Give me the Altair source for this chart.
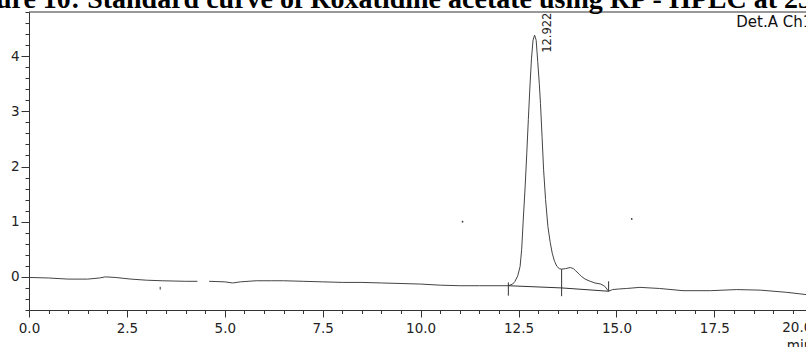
import altair as alt
import pandas as pd

# ---- data ----
time_min = [0.0, 0.5, 1.0, 1.5, 1.8, 1.95, 2.2, 2.6, 3.0, 3.4, 4.0, 4.3,
            4.6, 5.0, 5.2, 5.4, 5.8, 6.2, 6.5, 7.0, 7.5, 8.0, 8.5, 9.0, 9.5,
            10.0, 10.5, 11.0, 11.5, 12.0, 12.24, 12.35, 12.41, 12.48, 12.54,
            12.58, 12.62, 12.67, 12.71, 12.75, 12.79, 12.83, 12.87, 12.91,
            12.95, 12.99, 13.03, 13.06, 13.10, 13.14, 13.19, 13.25, 13.31,
            13.36, 13.42, 13.48, 13.54, 13.6, 13.7, 13.82, 13.9, 13.96, 14.05,
            14.12, 14.2, 14.33, 14.45, 14.6, 14.7, 14.8, 14.9, 15.05, 15.26,
            15.6, 16.1, 16.7, 17.4, 18.07, 18.67, 19.35, 19.84]
signal = [-0.01, -0.02, -0.04, -0.04, -0.02, 0.0, -0.01, -0.04, -0.06, -0.07,
          -0.08, -0.08, -0.08, -0.09, -0.11, -0.09, -0.07, -0.07, -0.07, -0.08,
          -0.09, -0.10, -0.10, -0.11, -0.12, -0.13, -0.15, -0.16, -0.16, -0.16,
          -0.16, -0.13, -0.08, 0.02, 0.19, 0.5, 1.03, 1.65, 2.24, 2.85, 3.44,
          3.95, 4.29, 4.38, 4.29, 3.9, 3.5, 3.14, 2.55, 1.94, 1.4, 0.91, 0.62,
          0.43, 0.28, 0.19, 0.15, 0.14, 0.15, 0.17, 0.15, 0.11, 0.05, 0.0,
          -0.04, -0.08, -0.11, -0.13, -0.17, -0.26, -0.23, -0.22, -0.21, -0.19,
          -0.21, -0.25, -0.25, -0.23, -0.24, -0.28, -0.32]
segment = [1 if t <= 4.3 else 2 for t in time_min]

# integration baseline and peak markers
base_t = [12.24, 13.6, 14.8]
base_v = [-0.16, -0.20, -0.26]
marker_t = [12.24, 13.6, 14.8, 3.35]
marker_top = [-0.10, 0.14, -0.08, -0.18]
marker_bot = [-0.34, -0.35, -0.26, -0.23]

speck_t = [11.07, 15.39]
speck_v = [1.0, 1.05]

peak_rt = ["12.922"]
peak_t = [13.24]
peak_v = [4.06]

x_ticks = [round(0.5 * i, 1) for i in range(40)]
y_ticks = [round(-0.6 + 0.2 * i, 1) for i in range(28)]

title_text = "Figure 10: Standard curve of Roxatidine acetate using RP - HPLC at 254 nm"

FONT = "DejaVu Sans"
AX = "#333333"

trace_df = pd.DataFrame({"t": time_min, "v": signal, "seg": segment})
base_df = pd.DataFrame({"t": base_t, "v": base_v})
marker_df = pd.DataFrame({"t": marker_t, "v": marker_top, "v2": marker_bot})
speck_df = pd.DataFrame({"t": speck_t, "v": speck_v})
peak_df = pd.DataFrame({"t": peak_t, "v": peak_v, "txt": peak_rt})

xscale = alt.Scale(domain=[0, 19.84], nice=False, zero=False)
yscale = alt.Scale(domain=[-0.6, 4.8], nice=False, zero=False)

major_x = "abs(datum.value/2.5 - round(datum.value/2.5)) < 0.001"
major_y = "abs(datum.value - round(datum.value)) < 0.001"

X = alt.X("t:Q", scale=xscale, title=None)
Y = alt.Y("v:Q", scale=yscale, title=None)

trace = alt.Chart(trace_df).mark_line(color="#444444", strokeWidth=1).encode(
    x=alt.X("t:Q", scale=xscale, title=None,
            axis=alt.Axis(values=x_ticks, tickCount=200, grid=False,
                          domainColor=AX, tickColor=AX,
                          labelExpr=f"{major_x} ? format(datum.value, '.1f') : ''",
                          tickSize={"condition": {"test": major_x, "value": 7}, "value": 3.5},
                          labelFont=FONT, labelFontSize=13.5, labelColor="#222222",
                          labelBaseline="alphabetic", labelPadding=15,
                          labelFlush=False, labelOverlap=False)),
    y=alt.Y("v:Q", scale=yscale, title=None,
            axis=alt.Axis(values=y_ticks, tickCount=200, grid=False,
                          domainColor=AX, tickColor=AX,
                          labelExpr=f"{major_y} ? format(datum.value, 'd') : ''",
                          tickSize={"condition": {"test": major_y, "value": 8}, "value": 4},
                          labelFont=FONT, labelFontSize=13.5, labelColor="#222222",
                          labelPadding=2, labelFlush=False, labelOverlap=False)),
    detail="seg:N",
)

baseline = alt.Chart(base_df).mark_line(color="#333333", strokeWidth=1).encode(x=X, y=Y)

markers = alt.Chart(marker_df).mark_rule(color="#333333", strokeWidth=1).encode(
    x=X, y=Y, y2="v2:Q")

specks = alt.Chart(speck_df).mark_point(filled=True, size=3, color="#333333", opacity=1).encode(
    x=X, y=Y)

peak_label = alt.Chart(peak_df).mark_text(
    angle=270, align="left", baseline="middle", font=FONT, fontSize=11.5, color="#222222"
).encode(x=X, y=Y, text="txt:N")

last_label = alt.Chart(pd.DataFrame({"t": [20.0], "v": [-0.6], "txt": ["20.0"]})).mark_text(
    align="right", baseline="alphabetic", dy=22, font=FONT, fontSize=13.5, color="#222222"
).encode(x=X, y=Y, text="txt:N")

unit_label = alt.Chart(pd.DataFrame({"t": [20.0], "v": [-0.6], "txt": ["min"]})).mark_text(
    align="right", baseline="alphabetic", dy=40, font=FONT, fontSize=13.5, color="#222222"
).encode(x=X, y=Y, text="txt:N")

det_label = alt.Chart(pd.DataFrame({"t": [20.0], "v": [4.8], "txt": ["Det.A Ch1"]})).mark_text(
    align="right", baseline="alphabetic", dy=15, font=FONT, fontSize=15, color="#111111"
).encode(x=X, y=Y, text="txt:N")

top_border = alt.Chart(pd.DataFrame({"v": [4.8]})).mark_rule(color=AX, strokeWidth=1).encode(y=Y)

title = alt.Chart(pd.DataFrame({"txt": [title_text]})).mark_text(
    align="left", baseline="alphabetic", font="Liberation Serif", fontWeight="bold",
    fontSize=28, color="#000000"
).encode(x=alt.value(-72), y=alt.value(-4.5), text="txt:N")

chart = alt.layer(trace, top_border, baseline, markers, specks, peak_label,
                  last_label, unit_label, det_label, title).properties(
    width=777, height=298,
    autosize=alt.AutoSizeParams(type="none"),
    padding={"left": 29, "top": 12, "right": 0, "bottom": 37},
    background="white",
).configure_view(stroke=None)

chart.save("out.html", embed_options={"renderer": "svg", "actions": False})
